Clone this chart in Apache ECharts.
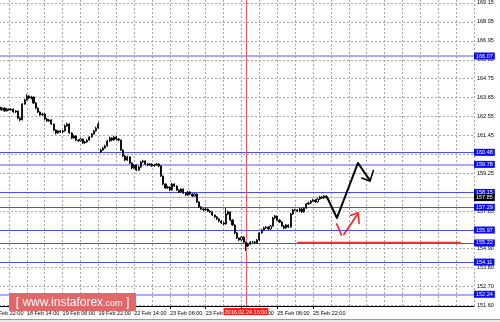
<!DOCTYPE html>
<html>
<head>
<meta charset="utf-8">
<script src="https://cdn.jsdelivr.net/npm/echarts@6/dist/echarts.min.js"></script>
<style>html,body{margin:0;padding:0;background:#fff;}#c{width:500px;height:322px;}</style>
</head>
<body>
<div id="c"></div>
<script>
// ---- data ----
// time labels, one every 16 hourly bars starting at bar 0
const timeLabels = ['17 Feb 22:00','18 Feb 14:00','19 Feb 06:00','19 Feb 22:00','22 Feb 14:00','23 Feb 06:00','23 Feb 22:00','24 Feb 14:00','25 Feb 06:00','25 Feb 22:00'];
const barCount = 217; // slots on the time axis (incl. empty right margin)
// price tick labels on the right axis
const yTicks = [169.15,168.05,166.95,165.85,164.75,163.65,162.55,161.45,160.35,159.25,158.15,157.05,155.95,154.90,153.80,152.70,151.60];
const yMin = 151.56, yMax = 169.32;
// H1 candles: [open, close, low, high]
const ohlc = [
[163.00,163.05,162.95,163.12],[163.05,163.17,163.00,163.22],[163.17,162.99,162.93,163.20],[162.99,163.11,162.95,163.16],
[163.11,162.94,162.90,163.14],[162.94,163.05,162.90,163.10],[163.05,162.88,162.84,163.08],[162.88,162.99,162.85,163.04],
[162.99,162.94,162.89,163.03],[162.94,162.99,162.90,163.05],[162.99,162.82,162.78,163.02],[162.82,162.88,162.76,162.93],
[162.88,162.47,162.40,162.90],[162.47,162.36,162.28,162.52],[162.36,163.28,162.33,163.34],[163.28,163.52,163.24,163.58],
[163.52,163.75,163.48,163.86],[163.75,163.63,163.57,163.80],[163.63,163.69,163.55,163.76],[163.69,163.34,163.28,163.72],
[163.34,163.05,162.98,163.40],[163.05,162.82,162.76,163.08],[162.82,162.65,162.60,162.86],[162.65,162.70,162.58,162.78],
[162.70,162.41,162.35,162.74],[162.41,162.30,162.24,162.46],[162.30,162.36,162.25,162.42],[162.36,162.12,162.06,162.40],
[162.12,161.77,161.70,162.15],[161.77,161.60,161.52,161.82],[161.60,161.72,161.55,161.78],[161.72,161.66,161.60,161.76],
[161.66,161.72,161.61,161.78],[161.72,162.01,161.68,162.10],[162.01,162.12,161.96,162.20],[162.12,161.60,161.55,162.16],
[161.60,161.31,161.25,161.64],[161.31,161.43,161.27,161.50],[161.43,161.19,161.14,161.47],[161.19,161.14,161.08,161.24],
[161.14,161.25,161.10,161.30],[161.25,161.02,160.96,161.28],[161.02,161.08,160.98,161.14],[161.08,161.19,161.04,161.24],
[161.19,161.37,161.15,161.42],[161.37,161.54,161.33,161.60],[161.54,161.72,161.50,161.78],[161.72,161.89,161.68,161.96],
[161.89,162.12,161.85,162.24],[160.50,160.61,160.44,160.70],[160.61,160.73,160.56,160.80],[160.73,160.85,160.68,160.92],
[160.85,161.14,160.80,161.20],[161.14,161.31,161.08,161.40],[161.31,161.19,161.12,161.36],[161.19,161.37,161.15,161.44],
[161.37,161.25,161.20,161.42],[161.25,161.19,161.12,161.30],[161.19,160.61,160.55,161.22],[160.61,160.27,160.20,160.66],
[160.27,160.03,159.96,160.32],[160.03,160.21,159.98,160.28],[160.21,159.86,159.80,160.25],[159.86,159.57,159.50,159.90],
[159.57,159.74,159.52,159.80],[159.74,159.45,159.38,159.78],[159.45,159.63,159.40,159.70],[159.63,159.92,159.58,159.98],
[159.92,159.98,159.86,160.05],[159.98,159.80,159.74,160.02],[159.80,159.74,159.68,159.85],[159.74,159.80,159.70,159.86],
[159.80,159.69,159.63,159.84],[159.69,159.74,159.64,159.80],[159.74,159.80,159.70,159.86],[159.80,159.69,159.62,159.84],
[159.69,159.11,159.05,159.72],[159.11,158.64,158.56,159.14],[158.64,158.41,158.35,158.68],[158.41,158.47,158.36,158.54],
[158.47,158.29,158.22,158.50],[158.29,158.64,158.26,158.70],[158.64,158.52,158.46,158.68],[158.52,158.29,158.24,158.56],
[158.29,158.18,158.12,158.34],[158.18,158.35,158.14,158.40],[158.35,158.12,158.06,158.38],[158.12,158.00,157.94,158.16],
[158.00,158.18,157.96,158.24],[158.18,158.06,158.00,158.22],[158.06,157.94,157.88,158.10],[157.94,158.06,157.90,158.12],
[158.06,157.60,157.54,158.09],[157.60,157.31,157.25,157.64],[157.31,157.19,157.13,157.36],[157.19,157.13,157.07,157.24],
[157.13,157.19,157.08,157.26],[157.19,157.07,157.01,157.22],[157.07,157.02,156.96,157.12],[157.02,156.84,156.78,157.06],
[156.84,156.73,156.66,156.88],[156.73,156.61,156.55,156.78],[156.61,156.49,156.42,156.66],[156.49,156.38,156.31,156.54],
[156.38,156.32,156.25,156.44],[156.32,156.90,156.28,157.25],[156.90,157.02,156.84,157.10],[157.02,156.55,156.48,157.05],
[156.55,156.26,156.20,156.60],[156.26,155.80,155.74,156.30],[155.80,155.51,155.45,155.85],[155.51,155.39,155.33,155.56],
[155.39,155.56,155.35,155.62],[155.56,155.27,155.20,155.60],[155.27,155.04,154.75,155.30],[155.04,155.16,154.98,155.22],
[155.16,155.27,155.10,155.33],[155.27,155.27,155.20,155.34],[155.27,155.22,155.15,155.32],[155.22,155.39,155.18,155.45],
[155.39,155.80,155.35,155.86],[155.80,155.97,155.76,156.04],[155.97,156.09,155.92,156.16],[156.09,156.14,156.03,156.20],
[156.14,156.03,155.97,156.18],[156.03,156.20,155.98,156.26],[156.20,156.67,156.16,156.74],[156.67,156.78,156.60,156.84],
[156.78,156.55,156.48,156.82],[156.55,156.43,156.37,156.60],[156.43,156.20,156.14,156.48],[156.20,156.09,156.02,156.26],
[156.09,156.26,156.04,156.32],[156.26,156.14,156.08,156.30],[156.14,156.90,156.10,156.96],[156.90,157.13,156.85,157.20],
[157.13,157.13,157.06,157.20],[157.13,157.07,157.00,157.18],[157.07,157.19,157.02,157.25],[157.19,157.02,156.96,157.24],
[157.02,157.25,156.98,157.30],[157.25,157.48,157.20,157.54],[157.48,157.54,157.42,157.62],[157.54,157.65,157.48,157.72],
[157.65,157.71,157.60,157.78],[157.71,157.60,157.54,157.76],[157.60,157.77,157.56,157.84],[157.77,157.89,157.72,157.96],
[157.89,157.83,157.77,157.94],[157.83,157.94,157.78,158.00],[157.94,157.85,157.80,157.98]
];
// support/resistance levels (blue lines)
const levels = [166.07,160.48,159.78,158.15,157.29,155.97,155.22,154.11,152.24];
const softLevels = [166.07,159.78,152.24];
// crosshair
const crossPrice = 157.85;
const crossBar = 114;
const crossTimeText = '2016.02.24 16:00';
// forecast drawings: [bar position, price]
const blackPath = [[150.2,157.89],[154.7,156.67],[164.1,159.86],[169.5,158.84]];
const blackHead = [[165.8,158.99],[169.5,158.82],[171.0,159.42]];
const redStroke1 = [[154.6,156.32],[156.7,155.68]];
const redStroke2 = [[157.8,155.71],[164.2,156.94]];
const redHead = [[160.8,156.82],[164.2,156.97],[164.6,156.35]];
const redLevel = [[137.3,155.22],[209.7,155.22]];

// ---- chart ----
const categories = [];
for (let i = 0; i < barCount; i++) categories.push(String(i));
const gridBars = [];
for (let i = 0; i < barCount; i += 8) gridBars.push(i);
const FONT = 'Liberation Sans';
const GRID = '#a6a6a6';
const labelAt = idx => idx % 16 === 0 && (idx / 16) < timeLabels.length;

function lineSeries(data, color, width) {
  return {type:'line', xAxisIndex:1, yAxisIndex:0, data:data, symbol:'none', silent:true, animation:false,
    lineStyle:{color:color, width:width, cap:'round', join:'round'}, z:6};
}

const chart = echarts.init(document.getElementById('c'), null, {renderer:'canvas'});
chart.setOption({
  animation:false,
  backgroundColor:'#ffffff',
  grid:{left:-8.94, right:26, top:0, bottom:16, containLabel:false, outerBoundsMode:'none'},
  xAxis:[{
    type:'category', data:categories, boundaryGap:false, position:'bottom',
    axisLine:{show:true, onZero:false, lineStyle:{color:'#000', width:1}},
    axisTick:{show:true, interval:labelAt, length:3, lineStyle:{color:'#000'}},
    axisLabel:{show:true, interval:labelAt, formatter:(v, idx) => timeLabels[idx/16] || '',
      fontSize:5.5, fontFamily:FONT, color:'#000', align:'left', margin:4},
    splitLine:{show:false}
  },{
    type:'value', min:0, max:barCount-1, show:false, splitLine:{show:false}
  }],
  yAxis:[{
    type:'value', min:yMin, max:yMax, position:'right', scale:true,
    axisLine:{show:true, lineStyle:{color:'#000', width:1}},
    axisTick:{show:true, customValues:yTicks, length:2, lineStyle:{color:'#000'}},
    axisLabel:{show:true, customValues:yTicks, formatter:v => v.toFixed(2),
      fontSize:5.5, fontFamily:FONT, color:'#000', margin:3},
    splitLine:{show:false}
  }],
  series:[
    {
      // dotted chart grid, drawn from the tick arrays
      type:'line', xAxisIndex:1, data:[], silent:true, z:1,
      markLine:{silent:true, symbol:'none', animation:false, label:{show:false},
        lineStyle:{color:GRID, width:1, type:'dashed', dashOffset:0},
        data: yTicks.map(v => ({yAxis:v, lineStyle:{color:GRID, width:1, type:[2,2]}}))
          .concat(gridBars.map(b => ({xAxis:b, lineStyle:{color:GRID, width:1, type:[2,2]}})))
      }
    },
    {
      type:'line', xAxisIndex:1, data:[], silent:true, z:3,
      markLine:{silent:true, symbol:'none', animation:false,
        data: levels.map(v => ({yAxis:v, lineStyle: softLevels.includes(v)
          ? {color:'#8e8eff', width:1.6, type:'solid'} : {color:'#4b4bff', width:1, type:'solid'}})),
        label:{show:true, position:'end', distance:0, formatter:p => Number(p.value).toFixed(2),
          backgroundColor:'#0a0aff', color:'#fff', fontSize:5.5, fontFamily:FONT, padding:[1,2,0,2], lineHeight:6}
      }
    },
    {
      type:'line', xAxisIndex:1, data:[], silent:true, z:4,
      markLine:{silent:true, symbol:'none', animation:false,
        data:[
          {yAxis:crossPrice, lineStyle:{color:'#bdbdbd', width:1, type:'solid'},
           label:{show:true, position:'end', distance:0, formatter:crossPrice.toFixed(2),
             backgroundColor:'#000', color:'#fff', fontSize:5.5, fontFamily:FONT, padding:[1,2,0,2], lineHeight:6}},
          {xAxis:crossBar, lineStyle:{color:'#e45c5c', width:1, type:'solid'},
           label:{show:true, position:'start', distance:2, formatter:crossTimeText,
             backgroundColor:'#ff1a1a', color:'#fff', fontSize:5.5, fontFamily:FONT, padding:[1,1,0,1], lineHeight:6}}
        ]
      }
    },
    {
      type:'candlestick', xAxisIndex:0, yAxisIndex:0, data:ohlc, barWidth:1.6, silent:true, z:5,
      itemStyle:{color:'#ffffff', color0:'#000000', borderColor:'#000000', borderColor0:'#000000', borderWidth:0.9}
    },
    lineSeries(redLevel, '#e8302f', 2.2),
    lineSeries(blackPath, '#000000', 2),
    lineSeries(blackHead, '#000000', 1.6),
    lineSeries(redStroke1, '#e8302f', 1.8),
    lineSeries(redStroke2, '#e8302f', 1.8),
    lineSeries(redHead, '#e8302f', 1.6)
  ],
  graphic:[
    {type:'rect', shape:{x:0, y:319, width:500, height:3}, style:{fill:'#ecebe6'}, z:90, silent:true},
    {type:'line', shape:{x1:0, y1:319.5, x2:500, y2:319.5}, style:{stroke:'#9a9a9a', lineWidth:1}, z:91, silent:true},
    {type:'rect', shape:{x:9, y:293, width:127, height:18, r:1}, style:{fill:'#e06868'}, z:100, silent:true},
    {type:'text', x:72.5, y:302.5, z:101, silent:true,
     style:{text:'{t|[ }{t|www.instaforex}{s|.com}{t| ]}', align:'center', verticalAlign:'middle', fill:'#fff',
       rich:{t:{fontSize:12, fontFamily:FONT, fill:'#fff'}, s:{fontSize:9, fontFamily:FONT, fill:'#fff', padding:[3,0,0,0]}}}}
  ]
});
</script>
</body>
</html>
